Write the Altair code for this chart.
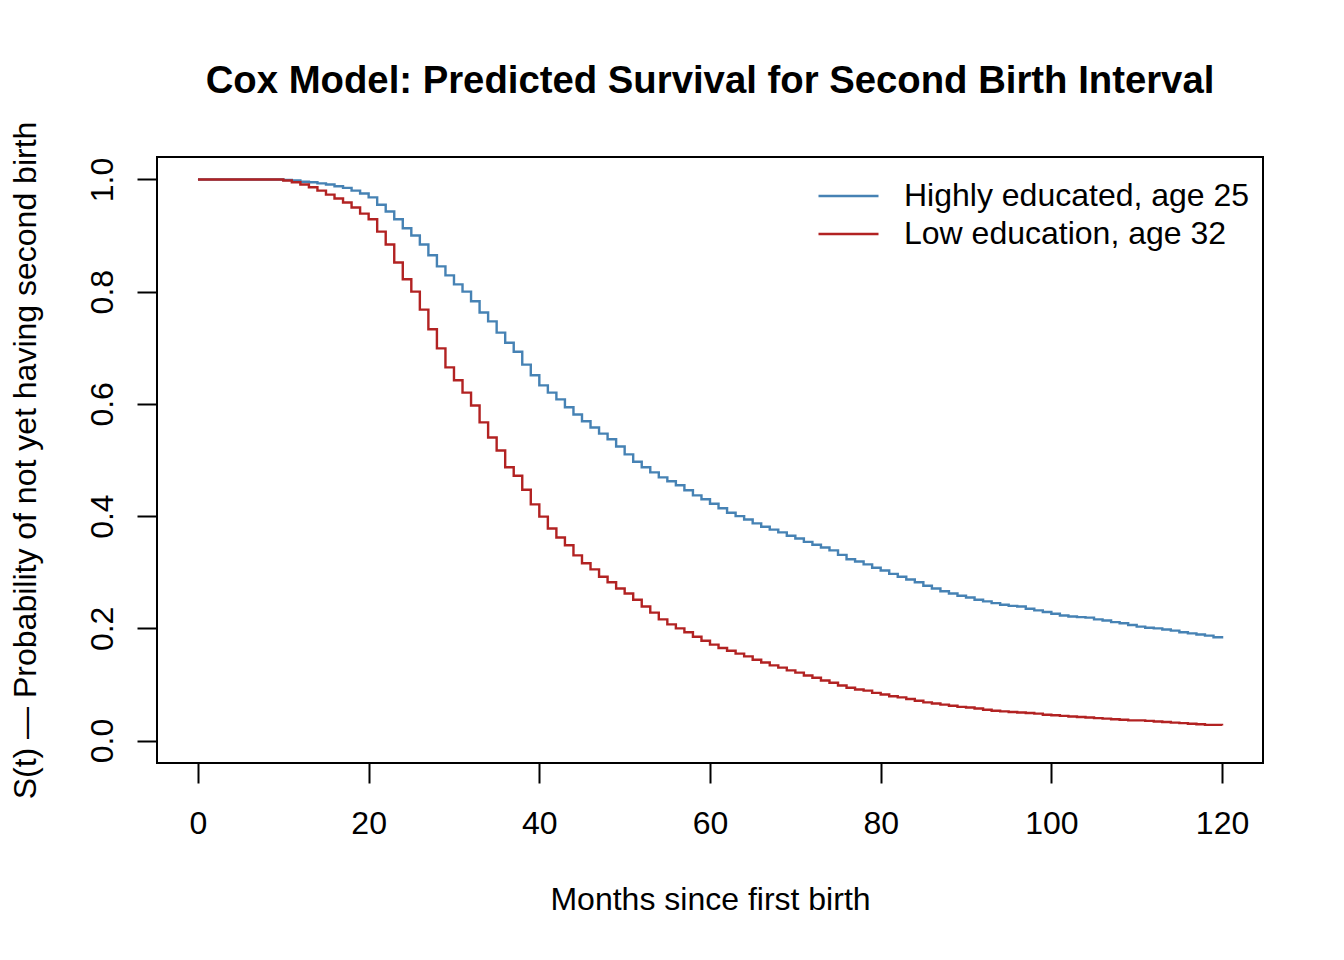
import altair as alt
import pandas as pd

months = list(range(0, 121))

high_edu_25 = [
    1.0, 1.0, 1.0, 1.0, 1.0, 1.0, 1.0, 1.0, 1.0, 1.0,
    0.999, 0.998, 0.996, 0.995, 0.993, 0.991, 0.988, 0.985, 0.980, 0.975,
    0.968, 0.955, 0.943, 0.929, 0.913, 0.900, 0.884, 0.865, 0.845, 0.829,
    0.813, 0.800, 0.783, 0.763, 0.747, 0.727, 0.709, 0.693, 0.670, 0.651,
    0.633, 0.620, 0.608, 0.594, 0.581, 0.569, 0.558, 0.547, 0.537, 0.524,
    0.510, 0.497, 0.487, 0.478, 0.469, 0.462, 0.455, 0.446, 0.437, 0.430,
    0.422, 0.414, 0.406, 0.400, 0.394, 0.387, 0.381, 0.376, 0.371, 0.365,
    0.360, 0.354, 0.349, 0.344, 0.339, 0.331, 0.323, 0.319, 0.314, 0.308,
    0.303, 0.297, 0.292, 0.287, 0.282, 0.276, 0.271, 0.266, 0.262, 0.258,
    0.255, 0.251, 0.248, 0.245, 0.242, 0.240, 0.239, 0.235, 0.232, 0.229,
    0.226, 0.223, 0.221, 0.220, 0.219, 0.216, 0.214, 0.211, 0.209, 0.206,
    0.203, 0.201, 0.200, 0.198, 0.196, 0.193, 0.191, 0.189, 0.187, 0.184,
    0.182,
]

low_edu_32 = [
    1.0, 1.0, 1.0, 1.0, 1.0, 1.0, 1.0, 1.0, 1.0, 1.0,
    0.998, 0.995, 0.991, 0.986, 0.980, 0.973, 0.966, 0.959, 0.950, 0.939,
    0.929, 0.907, 0.884, 0.852, 0.822, 0.800, 0.768, 0.733, 0.699, 0.665,
    0.642, 0.620, 0.597, 0.567, 0.540, 0.517, 0.487, 0.472, 0.447, 0.421,
    0.399, 0.378, 0.362, 0.348, 0.330, 0.316, 0.305, 0.292, 0.282, 0.271,
    0.262, 0.251, 0.239, 0.228, 0.216, 0.207, 0.200, 0.193, 0.185, 0.178,
    0.171, 0.165, 0.160, 0.155, 0.150, 0.144, 0.139, 0.134, 0.130, 0.125,
    0.121, 0.116, 0.112, 0.107, 0.103, 0.098, 0.094, 0.091, 0.089, 0.085,
    0.082, 0.079, 0.077, 0.074, 0.071, 0.068, 0.066, 0.064, 0.062, 0.060,
    0.059, 0.057, 0.055, 0.053, 0.052, 0.051, 0.050, 0.049, 0.048, 0.046,
    0.045, 0.044, 0.043, 0.042, 0.041, 0.040, 0.039, 0.038, 0.037, 0.036,
    0.036, 0.035, 0.034, 0.033, 0.032, 0.031, 0.030, 0.029, 0.028, 0.028,
    0.027,
]

series_names = ["Highly educated, age 25", "Low education, age 32"]
series_colors = ["#4682B4", "#B22222"]
x_ticks = [0, 20, 40, 60, 80, 100, 120]
y_ticks = [0.0, 0.2, 0.4, 0.6, 0.8, 1.0]

rows = []
for name, vals in zip(series_names, [high_edu_25, low_edu_32]):
    for m, v in zip(months, vals):
        rows.append({"month": m, "surv": v, "group": name})
df = pd.DataFrame(rows)

FONT = "Liberation Sans"

chart = (
    alt.Chart(df)
    .mark_line(interpolate="step-after", strokeWidth=2.4)
    .encode(
        x=alt.X(
            "month:Q",
            scale=alt.Scale(domain=[-4.8, 124.8], nice=False, zero=False),
            axis=alt.Axis(
                values=x_ticks,
                title="Months since first birth",
                grid=False,
                domain=False,
                tickSize=20,
                tickWidth=2,
                tickColor="black",
                labelFontSize=32,
                labelFont=FONT,
                labelColor="black",
                labelBaseline="alphabetic",
                labelPadding=50,
                labelFlush=False,
                titleFontSize=32,
                titleFont=FONT,
                titleFontWeight="normal",
                titleColor="black",
                titleBaseline="alphabetic",
                titleX=553,
                titleY=146,
            ),
        ),
        y=alt.Y(
            "surv:Q",
            scale=alt.Scale(domain=[-0.04, 1.04], nice=False, zero=False),
            axis=alt.Axis(
                values=y_ticks,
                format=".1f",
                title="S(t) \u2014 Probability of not yet having second birth",
                grid=False,
                domain=False,
                tickSize=20,
                tickWidth=2,
                tickColor="black",
                labelFontSize=32,
                labelFont=FONT,
                labelColor="black",
                labelAngle=270,
                labelAlign="center",
                labelBaseline="alphabetic",
                labelPadding=25,
                labelFlush=False,
                titleFontSize=32,
                titleFont=FONT,
                titleFontWeight="normal",
                titleColor="black",
                titleBaseline="alphabetic",
                titleAngle=270,
                titleX=-122,
                titleY=303,
            ),
        ),
        color=alt.Color(
            "group:N",
            scale=alt.Scale(domain=series_names, range=series_colors),
            legend=alt.Legend(
                title=None,
                orient="none",
                legendX=660,
                legendY=23,
                symbolType="stroke",
                symbolSize=3600,
                symbolStrokeWidth=2.4,
                clipHeight=32,
                labelFontSize=32,
                labelFont=FONT,
                labelColor="black",
                labelOffset=24,
                rowPadding=6,
                padding=0,
                labelLimit=600,
            ),
        ),
    )
    .properties(
        width=1106,
        height=606,
        title=alt.TitleParams(
            text="Cox Model: Predicted Survival for Second Birth Interval",
            font=FONT,
            fontSize=38.3,
            fontWeight="bold",
            color="black",
            anchor="middle",
            offset=20,
        ),
        autosize=alt.AutoSizeParams(type="none"),
        padding={"left": 149, "top": 149, "right": 73, "bottom": 180},
    )
    .configure(background="white")
    .configure_view(stroke="black", strokeWidth=2)
)

chart.save("out.html", embed_options={"renderer": "svg", "actions": False})
